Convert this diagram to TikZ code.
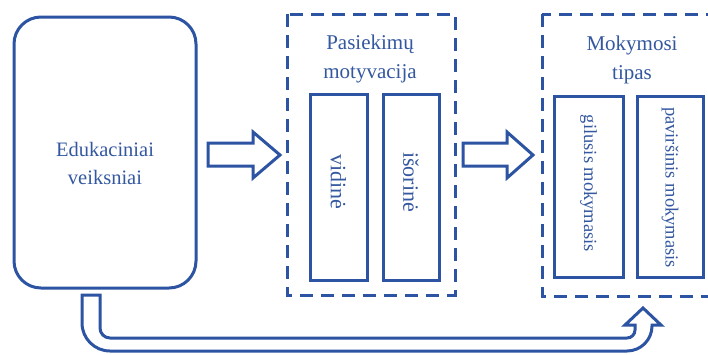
\documentclass[tikz,border=0pt]{standalone}
\usepackage{fontspec}
\setmainfont{Liberation Serif}
\definecolor{ink}{RGB}{44,84,162}
\definecolor{txt}{RGB}{52,88,160}
\begin{document}
\begin{tikzpicture}[x=1pt,y=-1pt,
  line join=miter,
  solid line/.style={draw=ink,line width=3pt},
  dash box/.style={draw=ink,line width=3pt,dash pattern=on 13pt off 8pt},
  innerbox/.style={solid line,inner sep=0pt},
  label text/.style={text=txt,align=center,font=\fontsize{21}{29}\selectfont},
  vtext/.style={text=txt,rotate=-90,font=\fontsize{18.5}{23}\selectfont},
  vtextbig/.style={text=txt,rotate=-90,font=\fontsize{22}{26}\selectfont},
  blockarrow/.style={solid line,fill=white}]
\clip (0,0) rectangle (708,354);
\fill[white] (0,0) rectangle (708,354);

% left rounded box
\draw[solid line,rounded corners=27pt] (14,17) rectangle (196,288);
\coordinate (edu) at (105,163);
\node[label text,font=\fontsize{20.5}{28}\selectfont] (edutext) at (edu) {Edukaciniai\\veiksniai};

% dashed group: motivation
\draw[dash box] (287,14) rectangle (455,295);
\node[label text] (mottitle) at (370,59) {Pasiekimų\\motyvacija};
\node[innerbox,minimum width=57pt,minimum height=186pt] (vid) at (338.5,187) {};
\node[vtextbig] (vidtxt) at ([yshift=5pt]vid.center) {vidinė};
\node[innerbox,minimum width=56pt,minimum height=186pt] (isor) at (411,187) {};
\node[vtextbig] (isortxt) at ([yshift=5pt]isor.center) {išorinė};

% dashed group: learning type
\draw[dash box] (542,14) rectangle (716,296);
\node[label text] (moktitle) at (632,60) {Mokymosi\\tipas};
\node[innerbox,minimum width=69pt,minimum height=181pt] (gil) at (588.5,186.5) {};
\node[vtext] (giltxt) at ([yshift=3pt]gil.center) {gilusis mokymasis};
\node[innerbox,minimum width=66pt,minimum height=181pt] (pav) at (670,186.5) {};
\node[vtext] (pavtxt) at ([yshift=-1pt]pav.center) {paviršinis mokymasis};

% block arrows between the stages
\draw[blockarrow] (208,143) -- (253,143) -- (253,132) -- (280,155)
  -- (253,178) -- (253,166) -- (208,166) -- cycle;
\draw[blockarrow] (463,143) -- (507,143) -- (507,132) -- (533,155)
  -- (507,178) -- (507,166) -- (463,166) -- cycle;

% bent arrow from the bottom of the left box up to the learning type
% (y axis points down, so arc angles are measured clockwise)
\draw[blockarrow]
  (82,295) -- (82,323) arc[start angle=180,end angle=270,radius=28pt]
  -- (627,351) arc[start angle=270,end angle=360,radius=25pt]
  -- (652,325) -- (661,325) -- (643,308) -- (625,325) -- (635,325)
  -- (635,330) arc[start angle=0,end angle=-90,radius=8pt]
  -- (110,338) arc[start angle=-90,end angle=-180,radius=10pt]
  -- (100,295) -- cycle;
\end{tikzpicture}
\end{document}
